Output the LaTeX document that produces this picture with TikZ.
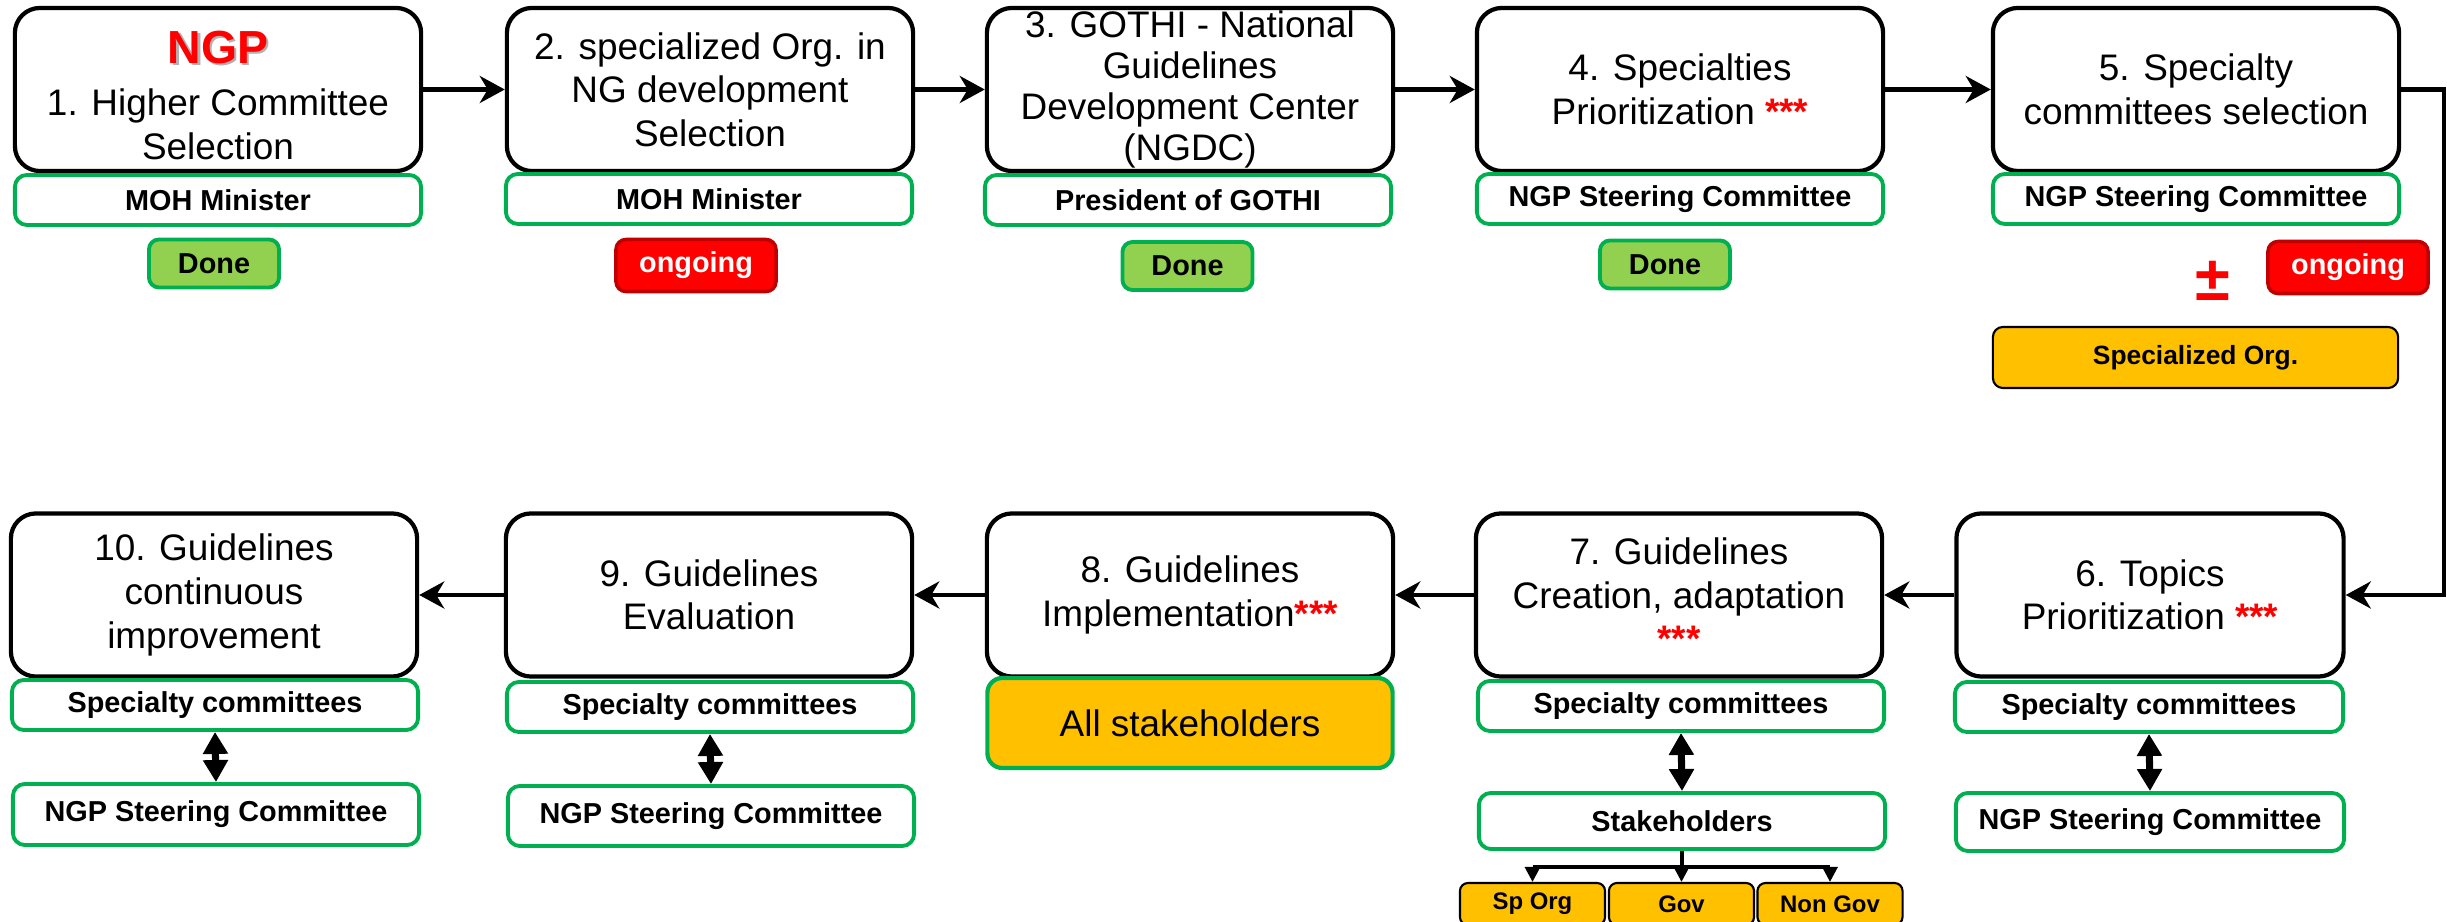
\documentclass[tikz,border=0pt]{standalone}
\usepackage{fontspec}
\setmainfont{Liberation Sans}
\usetikzlibrary{arrows.meta}
\definecolor{ggreen}{HTML}{00B050}
\definecolor{lgreen}{HTML}{92D050}
\definecolor{dred}{HTML}{C00000}
\definecolor{gold}{HTML}{FFC000}
\newcommand\redstars{\textcolor{red}{\bfseries ***}}
\newcommand\ngptitle{{\rule{0pt}{12.5pt}\bfseries\fontsize{13.2}{15}\selectfont\makebox[0pt][l]{\hspace{0.7pt}\raisebox{-0.7pt}{\textcolor{black!30}{NGP}}}\textcolor{red}{NGP}}}
\begin{document}
\begin{tikzpicture}[x=0.01cm,y=-0.01cm,
  mainbox/.style={draw=black, line width=1.2pt, rounded corners=0.25cm, fill=white,
    minimum width=4.06cm, minimum height=1.63cm, align=center, inner sep=0pt,
    font=\fontsize{10.5}{12.4}\selectfont},
  rolebox/.style={draw=ggreen, line width=1.1pt, rounded corners=0.12cm, fill=white,
    minimum width=4.06cm, minimum height=0.5cm, inner sep=0pt,
    font=\bfseries\fontsize{8.2}{10}\selectfont},
  donebox/.style={draw=ggreen, fill=lgreen, line width=1.1pt, rounded corners=0.1cm,
    minimum width=1.3cm, minimum height=0.48cm, inner sep=0pt,
    font=\bfseries\fontsize{8.2}{10}\selectfont},
  ongoingbox/.style={draw=dred, fill=red, line width=1pt, rounded corners=0.1cm,
    minimum width=1.6cm, minimum height=0.52cm, inner sep=0pt, text=white,
    font=\bfseries\fontsize{8.2}{10}\selectfont},
  orgbox/.style={draw=black, fill=gold, line width=0.6pt, rounded corners=0.1cm,
    minimum width=4.05cm, minimum height=0.61cm, inner sep=0pt,
    font=\bfseries\fontsize{7.5}{9}\selectfont},
  smallorg/.style={draw=black, fill=gold, line width=0.6pt, rounded corners=0.08cm,
    minimum width=1.45cm, minimum height=0.42cm, inner sep=0pt,
    font=\bfseries\fontsize{6.8}{8}\selectfont},
  allbox/.style={draw=ggreen, fill=gold, line width=1.2pt, rounded corners=0.15cm,
    minimum width=4.05cm, minimum height=0.9cm, inner sep=0pt,
    font=\fontsize{10.5}{12.4}\selectfont},
  pmsign/.style={text=red, inner sep=0pt, font=\bfseries\fontsize{18}{18}\selectfont},
  flow/.style={line width=1.3pt, -{Stealth[length=0.25cm,width=0.27cm,inset=0.08cm]}},
  twoway/.style={line width=2pt, {Triangle[length=0.22cm,width=0.24cm]}-{Triangle[length=0.22cm,width=0.24cm]}},
  treeline/.style={line width=0.9pt},
  treearrow/.style={line width=0.9pt, -{Triangle[length=0.15cm,width=0.15cm]}}
]
\useasboundingbox (0,0) rectangle (2447,922);
\clip (0,0) rectangle (2447,922);
\fill[white] (0,0) rectangle (2447,922);

% top row
\node[mainbox] (b1) at (218,89.5) {\ngptitle\\[2.5pt]1. Higher Committee\\Selection};
\node[mainbox] (b2) at (710,89.5) {2. specialized Org. in\\NG development\\Selection};
\node[mainbox, font=\fontsize{10.5}{11.7}\selectfont] (b3) at (1190,89.5) {3. GOTHI - National\\Guidelines\\Development Center\\(NGDC)};
\node[mainbox] (b4) at (1680,89.5) {4. Specialties\\Prioritization \redstars};
\node[mainbox] (b5) at (2196,89.5) {5. Specialty\\committees selection};

\node[rolebox] (r1) at (218,200) {MOH Minister};
\node[rolebox] (r2) at (709,199) {MOH Minister};
\node[rolebox] (r3) at (1188,200) {President of GOTHI};
\node[rolebox] (r4) at (1680,199) {NGP Steering Committee};
\node[rolebox] (r5) at (2196,199) {NGP Steering Committee};

\node[donebox] (s1) at (214,263.5) {Done};
\node[ongoingbox] (s2) at (696,265.5) {ongoing};
\node[donebox] (s3) at (1187.5,266) {Done};
\node[donebox] (s4) at (1665,264.5) {Done};
\node[ongoingbox] (s5) at (2348,267.5) {ongoing};
\node[pmsign] (pm5) at (2213,281) {±};
\node[orgbox] (o5) at (2195.5,357.5) {Specialized Org.};

% bottom row
\node[mainbox, minimum width=3.87cm] (b6) at (2150,595) {6. Topics\\Prioritization \redstars};
\node[mainbox] (b7) at (1679,595) {7. Guidelines\\Creation, adaptation\\\redstars};
\node[mainbox] (b8) at (1190,595) {8. Guidelines\\Implementation\redstars};
\node[mainbox] (b9) at (709,595) {9. Guidelines\\Evaluation};
\node[mainbox] (b10) at (214,595) {10. Guidelines\\continuous\\improvement};

\node[rolebox, minimum width=3.88cm] (r6) at (2149,707) {Specialty committees};
\node[rolebox, minimum width=3.88cm, minimum height=0.58cm] (n6) at (2150,822) {NGP Steering Committee};
\node[rolebox] (r7) at (1681,706) {Specialty committees};
\node[rolebox, minimum height=0.56cm] (k7) at (1682,821) {Stakeholders};
\node[smallorg] (g1) at (1532.5,904) {Sp Org};
\node[smallorg] (g2) at (1681.5,904) {Gov};
\node[smallorg] (g3) at (1830,904) {Non Gov};
\node[allbox] (a8) at (1190,723) {All stakeholders};
\node[rolebox] (r9) at (710,707) {Specialty committees};
\node[rolebox, minimum height=0.6cm] (n9) at (711,816) {NGP Steering Committee};
\node[rolebox] (r10) at (215,705) {Specialty committees};
\node[rolebox, minimum height=0.61cm] (n10) at (216,814.5) {NGP Steering Committee};

% connectors
\draw[flow] (b1.east) -- (b2.west);
\draw[flow] (b2.east) -- (b3.west);
\draw[flow] (b3.east) -- (b4.west);
\draw[flow] (b4.east) -- (b5.west);
\coordinate (turn) at (2444,89.5);
\draw[flow] (b5.east) -- (turn) |- (b6.east);
\draw[flow] (b6.west) -- (b7.east);
\draw[flow] (b7.west) -- (b8.east);
\draw[flow] (b8.west) -- (b9.east);
\draw[flow] (b9.west) -- (b10.east);

\draw[twoway] (r6.south) -- (n6.north);
\draw[twoway] (r7.south) -- (k7.north);
\draw[twoway] (r9.south) -- (n9.north);
\draw[twoway] (r10.south) -- (n10.north);

\coordinate (tj) at (1682,867);
\draw[treeline] (k7.south) -- (tj);
\draw[treeline] (g1.north |- tj) -- (g3.north |- tj);
\draw[treearrow] (g1.north |- tj) -- (g1.north);
\draw[treearrow] (g2.north |- tj) -- (g2.north);
\draw[treearrow] (g3.north |- tj) -- (g3.north);
\end{tikzpicture}
\end{document}
